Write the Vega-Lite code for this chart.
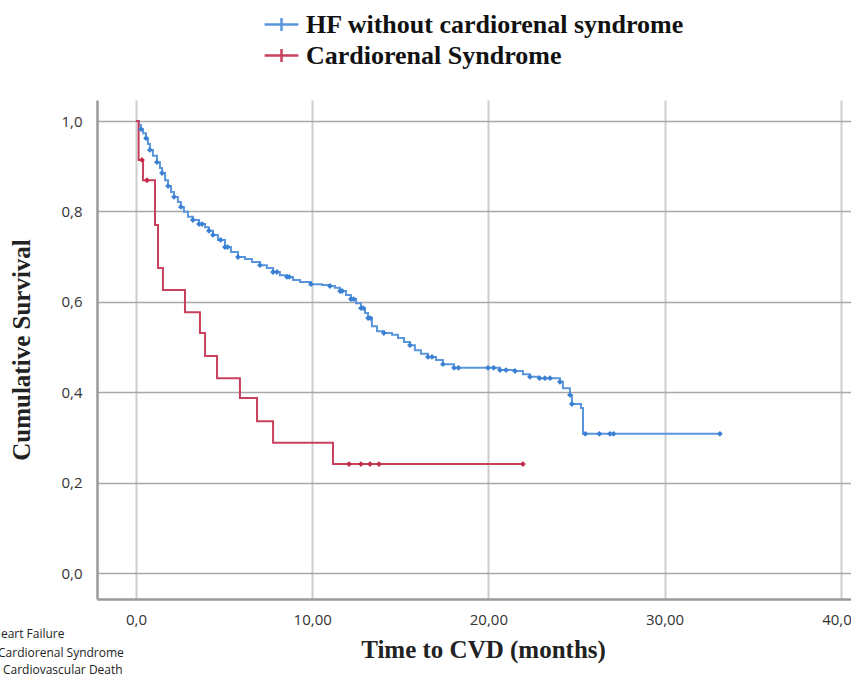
{
  "$schema": "https://vega.github.io/schema/vega-lite/v6.json",
  "autosize": {"type": "none"},
  "padding": {"left": 97, "top": 100, "right": 0, "bottom": 76},
  "width": 754,
  "height": 499,
  "background": "white",
  "config": {
    "view": {"stroke": null},
    "axis": {"labelFont": "Open Sans", "labelFontSize": 15, "labelColor": "#333333", "titleFont": "Liberation Serif", "titleFontWeight": "bold", "titleFontSize": 25, "titleColor": "#222222", "ticks": false, "domainColor": "#9a9a9a", "domainWidth": 2.5}
  },
  "data": {"values": [
    {"group": "HF without cardiorenal syndrome", "kind": "step", "t": 0, "s": 1.0},
    {"group": "HF without cardiorenal syndrome", "kind": "step", "t": 0.17, "s": 0.991},
    {"group": "HF without cardiorenal syndrome", "kind": "step", "t": 0.28, "s": 0.982},
    {"group": "HF without cardiorenal syndrome", "kind": "step", "t": 0.40, "s": 0.973},
    {"group": "HF without cardiorenal syndrome", "kind": "step", "t": 0.57, "s": 0.962},
    {"group": "HF without cardiorenal syndrome", "kind": "step", "t": 0.68, "s": 0.949},
    {"group": "HF without cardiorenal syndrome", "kind": "step", "t": 0.79, "s": 0.936},
    {"group": "HF without cardiorenal syndrome", "kind": "step", "t": 0.96, "s": 0.923},
    {"group": "HF without cardiorenal syndrome", "kind": "step", "t": 1.19, "s": 0.909},
    {"group": "HF without cardiorenal syndrome", "kind": "step", "t": 1.36, "s": 0.896},
    {"group": "HF without cardiorenal syndrome", "kind": "step", "t": 1.48, "s": 0.885},
    {"group": "HF without cardiorenal syndrome", "kind": "step", "t": 1.65, "s": 0.869},
    {"group": "HF without cardiorenal syndrome", "kind": "step", "t": 1.82, "s": 0.856},
    {"group": "HF without cardiorenal syndrome", "kind": "step", "t": 1.99, "s": 0.843},
    {"group": "HF without cardiorenal syndrome", "kind": "step", "t": 2.16, "s": 0.832},
    {"group": "HF without cardiorenal syndrome", "kind": "step", "t": 2.38, "s": 0.821},
    {"group": "HF without cardiorenal syndrome", "kind": "step", "t": 2.55, "s": 0.810},
    {"group": "HF without cardiorenal syndrome", "kind": "step", "t": 2.72, "s": 0.799},
    {"group": "HF without cardiorenal syndrome", "kind": "step", "t": 2.95, "s": 0.788},
    {"group": "HF without cardiorenal syndrome", "kind": "step", "t": 3.23, "s": 0.781},
    {"group": "HF without cardiorenal syndrome", "kind": "step", "t": 3.58, "s": 0.772},
    {"group": "HF without cardiorenal syndrome", "kind": "step", "t": 3.92, "s": 0.765},
    {"group": "HF without cardiorenal syndrome", "kind": "step", "t": 4.14, "s": 0.757},
    {"group": "HF without cardiorenal syndrome", "kind": "step", "t": 4.37, "s": 0.748},
    {"group": "HF without cardiorenal syndrome", "kind": "step", "t": 4.65, "s": 0.737},
    {"group": "HF without cardiorenal syndrome", "kind": "step", "t": 5.05, "s": 0.721},
    {"group": "HF without cardiorenal syndrome", "kind": "step", "t": 5.39, "s": 0.710},
    {"group": "HF without cardiorenal syndrome", "kind": "step", "t": 5.79, "s": 0.699},
    {"group": "HF without cardiorenal syndrome", "kind": "step", "t": 6.19, "s": 0.695},
    {"group": "HF without cardiorenal syndrome", "kind": "step", "t": 6.58, "s": 0.688},
    {"group": "HF without cardiorenal syndrome", "kind": "step", "t": 7.04, "s": 0.681},
    {"group": "HF without cardiorenal syndrome", "kind": "step", "t": 7.43, "s": 0.675},
    {"group": "HF without cardiorenal syndrome", "kind": "step", "t": 7.78, "s": 0.666},
    {"group": "HF without cardiorenal syndrome", "kind": "step", "t": 8.17, "s": 0.659},
    {"group": "HF without cardiorenal syndrome", "kind": "step", "t": 8.57, "s": 0.655},
    {"group": "HF without cardiorenal syndrome", "kind": "step", "t": 8.91, "s": 0.648},
    {"group": "HF without cardiorenal syndrome", "kind": "step", "t": 9.31, "s": 0.644},
    {"group": "HF without cardiorenal syndrome", "kind": "step", "t": 9.93, "s": 0.639},
    {"group": "HF without cardiorenal syndrome", "kind": "step", "t": 10.56, "s": 0.637},
    {"group": "HF without cardiorenal syndrome", "kind": "step", "t": 11.01, "s": 0.635},
    {"group": "HF without cardiorenal syndrome", "kind": "step", "t": 11.29, "s": 0.631},
    {"group": "HF without cardiorenal syndrome", "kind": "step", "t": 11.58, "s": 0.624},
    {"group": "HF without cardiorenal syndrome", "kind": "step", "t": 11.92, "s": 0.615},
    {"group": "HF without cardiorenal syndrome", "kind": "step", "t": 12.20, "s": 0.606},
    {"group": "HF without cardiorenal syndrome", "kind": "step", "t": 12.49, "s": 0.597},
    {"group": "HF without cardiorenal syndrome", "kind": "step", "t": 12.77, "s": 0.586},
    {"group": "HF without cardiorenal syndrome", "kind": "step", "t": 13.00, "s": 0.575},
    {"group": "HF without cardiorenal syndrome", "kind": "step", "t": 13.17, "s": 0.564},
    {"group": "HF without cardiorenal syndrome", "kind": "step", "t": 13.39, "s": 0.546},
    {"group": "HF without cardiorenal syndrome", "kind": "step", "t": 13.68, "s": 0.535},
    {"group": "HF without cardiorenal syndrome", "kind": "step", "t": 14.07, "s": 0.531},
    {"group": "HF without cardiorenal syndrome", "kind": "step", "t": 14.53, "s": 0.527},
    {"group": "HF without cardiorenal syndrome", "kind": "step", "t": 14.87, "s": 0.520},
    {"group": "HF without cardiorenal syndrome", "kind": "step", "t": 15.21, "s": 0.511},
    {"group": "HF without cardiorenal syndrome", "kind": "step", "t": 15.55, "s": 0.504},
    {"group": "HF without cardiorenal syndrome", "kind": "step", "t": 15.83, "s": 0.493},
    {"group": "HF without cardiorenal syndrome", "kind": "step", "t": 16.17, "s": 0.485},
    {"group": "HF without cardiorenal syndrome", "kind": "step", "t": 16.57, "s": 0.478},
    {"group": "HF without cardiorenal syndrome", "kind": "step", "t": 17.03, "s": 0.471},
    {"group": "HF without cardiorenal syndrome", "kind": "step", "t": 17.42, "s": 0.462},
    {"group": "HF without cardiorenal syndrome", "kind": "step", "t": 18.05, "s": 0.454},
    {"group": "HF without cardiorenal syndrome", "kind": "step", "t": 20.66, "s": 0.449},
    {"group": "HF without cardiorenal syndrome", "kind": "step", "t": 21.51, "s": 0.447},
    {"group": "HF without cardiorenal syndrome", "kind": "step", "t": 21.96, "s": 0.440},
    {"group": "HF without cardiorenal syndrome", "kind": "step", "t": 22.36, "s": 0.434},
    {"group": "HF without cardiorenal syndrome", "kind": "step", "t": 22.9, "s": 0.431},
    {"group": "HF without cardiorenal syndrome", "kind": "step", "t": 24.06, "s": 0.423},
    {"group": "HF without cardiorenal syndrome", "kind": "step", "t": 24.23, "s": 0.409},
    {"group": "HF without cardiorenal syndrome", "kind": "step", "t": 24.63, "s": 0.394},
    {"group": "HF without cardiorenal syndrome", "kind": "step", "t": 24.74, "s": 0.374},
    {"group": "HF without cardiorenal syndrome", "kind": "step", "t": 25.26, "s": 0.365},
    {"group": "HF without cardiorenal syndrome", "kind": "step", "t": 25.37, "s": 0.308},
    {"group": "HF without cardiorenal syndrome", "kind": "step", "t": 33.14, "s": 0.308},
    {"group": "HF without cardiorenal syndrome", "kind": "censor", "t": 0.28, "s": 0.982},
    {"group": "HF without cardiorenal syndrome", "kind": "censor", "t": 0.57, "s": 0.962},
    {"group": "HF without cardiorenal syndrome", "kind": "censor", "t": 0.79, "s": 0.936},
    {"group": "HF without cardiorenal syndrome", "kind": "censor", "t": 1.19, "s": 0.909},
    {"group": "HF without cardiorenal syndrome", "kind": "censor", "t": 1.48, "s": 0.885},
    {"group": "HF without cardiorenal syndrome", "kind": "censor", "t": 1.82, "s": 0.856},
    {"group": "HF without cardiorenal syndrome", "kind": "censor", "t": 2.16, "s": 0.832},
    {"group": "HF without cardiorenal syndrome", "kind": "censor", "t": 2.55, "s": 0.810},
    {"group": "HF without cardiorenal syndrome", "kind": "censor", "t": 3.23, "s": 0.781},
    {"group": "HF without cardiorenal syndrome", "kind": "censor", "t": 3.58, "s": 0.772},
    {"group": "HF without cardiorenal syndrome", "kind": "censor", "t": 3.75, "s": 0.772},
    {"group": "HF without cardiorenal syndrome", "kind": "censor", "t": 4.14, "s": 0.757},
    {"group": "HF without cardiorenal syndrome", "kind": "censor", "t": 4.37, "s": 0.748},
    {"group": "HF without cardiorenal syndrome", "kind": "censor", "t": 4.8, "s": 0.737},
    {"group": "HF without cardiorenal syndrome", "kind": "censor", "t": 5.05, "s": 0.721},
    {"group": "HF without cardiorenal syndrome", "kind": "censor", "t": 5.2, "s": 0.721},
    {"group": "HF without cardiorenal syndrome", "kind": "censor", "t": 5.79, "s": 0.699},
    {"group": "HF without cardiorenal syndrome", "kind": "censor", "t": 7.04, "s": 0.681},
    {"group": "HF without cardiorenal syndrome", "kind": "censor", "t": 7.78, "s": 0.666},
    {"group": "HF without cardiorenal syndrome", "kind": "censor", "t": 8.0, "s": 0.666},
    {"group": "HF without cardiorenal syndrome", "kind": "censor", "t": 8.57, "s": 0.655},
    {"group": "HF without cardiorenal syndrome", "kind": "censor", "t": 8.7, "s": 0.655},
    {"group": "HF without cardiorenal syndrome", "kind": "censor", "t": 9.93, "s": 0.639},
    {"group": "HF without cardiorenal syndrome", "kind": "censor", "t": 11.01, "s": 0.635},
    {"group": "HF without cardiorenal syndrome", "kind": "censor", "t": 11.58, "s": 0.624},
    {"group": "HF without cardiorenal syndrome", "kind": "censor", "t": 11.7, "s": 0.624},
    {"group": "HF without cardiorenal syndrome", "kind": "censor", "t": 12.2, "s": 0.606},
    {"group": "HF without cardiorenal syndrome", "kind": "censor", "t": 12.35, "s": 0.606},
    {"group": "HF without cardiorenal syndrome", "kind": "censor", "t": 12.77, "s": 0.586},
    {"group": "HF without cardiorenal syndrome", "kind": "censor", "t": 12.9, "s": 0.586},
    {"group": "HF without cardiorenal syndrome", "kind": "censor", "t": 13.17, "s": 0.564},
    {"group": "HF without cardiorenal syndrome", "kind": "censor", "t": 13.3, "s": 0.564},
    {"group": "HF without cardiorenal syndrome", "kind": "censor", "t": 14.07, "s": 0.531},
    {"group": "HF without cardiorenal syndrome", "kind": "censor", "t": 15.55, "s": 0.504},
    {"group": "HF without cardiorenal syndrome", "kind": "censor", "t": 16.57, "s": 0.478},
    {"group": "HF without cardiorenal syndrome", "kind": "censor", "t": 16.8, "s": 0.478},
    {"group": "HF without cardiorenal syndrome", "kind": "censor", "t": 17.42, "s": 0.462},
    {"group": "HF without cardiorenal syndrome", "kind": "censor", "t": 18.05, "s": 0.454},
    {"group": "HF without cardiorenal syndrome", "kind": "censor", "t": 18.3, "s": 0.454},
    {"group": "HF without cardiorenal syndrome", "kind": "censor", "t": 19.98, "s": 0.454},
    {"group": "HF without cardiorenal syndrome", "kind": "censor", "t": 20.3, "s": 0.454},
    {"group": "HF without cardiorenal syndrome", "kind": "censor", "t": 20.66, "s": 0.449},
    {"group": "HF without cardiorenal syndrome", "kind": "censor", "t": 21.0, "s": 0.449},
    {"group": "HF without cardiorenal syndrome", "kind": "censor", "t": 21.51, "s": 0.447},
    {"group": "HF without cardiorenal syndrome", "kind": "censor", "t": 22.36, "s": 0.434},
    {"group": "HF without cardiorenal syndrome", "kind": "censor", "t": 22.9, "s": 0.431},
    {"group": "HF without cardiorenal syndrome", "kind": "censor", "t": 23.21, "s": 0.431},
    {"group": "HF without cardiorenal syndrome", "kind": "censor", "t": 23.5, "s": 0.431},
    {"group": "HF without cardiorenal syndrome", "kind": "censor", "t": 24.06, "s": 0.423},
    {"group": "HF without cardiorenal syndrome", "kind": "censor", "t": 24.63, "s": 0.394},
    {"group": "HF without cardiorenal syndrome", "kind": "censor", "t": 24.74, "s": 0.374},
    {"group": "HF without cardiorenal syndrome", "kind": "censor", "t": 25.5, "s": 0.308},
    {"group": "HF without cardiorenal syndrome", "kind": "censor", "t": 26.3, "s": 0.308},
    {"group": "HF without cardiorenal syndrome", "kind": "censor", "t": 26.9, "s": 0.308},
    {"group": "HF without cardiorenal syndrome", "kind": "censor", "t": 27.1, "s": 0.308},
    {"group": "HF without cardiorenal syndrome", "kind": "censor", "t": 33.14, "s": 0.308},
    {"group": "Cardiorenal Syndrome", "kind": "step", "t": 0, "s": 1.0},
    {"group": "Cardiorenal Syndrome", "kind": "step", "t": 0.15, "s": 0.914},
    {"group": "Cardiorenal Syndrome", "kind": "step", "t": 0.40, "s": 0.869},
    {"group": "Cardiorenal Syndrome", "kind": "step", "t": 1.08, "s": 0.770},
    {"group": "Cardiorenal Syndrome", "kind": "step", "t": 1.25, "s": 0.675},
    {"group": "Cardiorenal Syndrome", "kind": "step", "t": 1.53, "s": 0.626},
    {"group": "Cardiorenal Syndrome", "kind": "step", "t": 2.78, "s": 0.577},
    {"group": "Cardiorenal Syndrome", "kind": "step", "t": 3.63, "s": 0.531},
    {"group": "Cardiorenal Syndrome", "kind": "step", "t": 3.92, "s": 0.480},
    {"group": "Cardiorenal Syndrome", "kind": "step", "t": 4.60, "s": 0.431},
    {"group": "Cardiorenal Syndrome", "kind": "step", "t": 5.90, "s": 0.387},
    {"group": "Cardiorenal Syndrome", "kind": "step", "t": 6.87, "s": 0.336},
    {"group": "Cardiorenal Syndrome", "kind": "step", "t": 7.78, "s": 0.288},
    {"group": "Cardiorenal Syndrome", "kind": "step", "t": 11.18, "s": 0.241},
    {"group": "Cardiorenal Syndrome", "kind": "step", "t": 21.96, "s": 0.241},
    {"group": "Cardiorenal Syndrome", "kind": "censor", "t": 0.34, "s": 0.914},
    {"group": "Cardiorenal Syndrome", "kind": "censor", "t": 0.62, "s": 0.869},
    {"group": "Cardiorenal Syndrome", "kind": "censor", "t": 12.09, "s": 0.241},
    {"group": "Cardiorenal Syndrome", "kind": "censor", "t": 12.77, "s": 0.241},
    {"group": "Cardiorenal Syndrome", "kind": "censor", "t": 13.28, "s": 0.241},
    {"group": "Cardiorenal Syndrome", "kind": "censor", "t": 13.79, "s": 0.241},
    {"group": "Cardiorenal Syndrome", "kind": "censor", "t": 21.96, "s": 0.241},
    {"group": "note", "kind": "note", "label": "Heart Failure", "t": -8.17, "s": -0.144},
    {"group": "note", "kind": "note", "label": "Cardiorenal Syndrome", "t": -7.83, "s": -0.186},
    {"group": "note", "kind": "note", "label": "Cardiovascular Death", "t": -7.55, "s": -0.223}
  ]},
  "encoding": {
    "x": {"field": "t", "type": "quantitative", "scale": {"domain": [-2.213, 40.58], "nice": false, "zero": false},
      "axis": {"title": "Time to CVD (months)", "values": [0, 10, 20, 30, 40], "labelExpr": "datum.value == 0 ? '0,0' : replace(format(datum.value, '.2f'), '.', ',')", "labelPadding": 13, "titlePadding": 10, "titleX": 386, "gridColor": "#cdcdcd", "gridWidth": 2}},
    "y": {"field": "s", "type": "quantitative", "scale": {"domain": [-0.0575, 1.0465], "nice": false, "zero": false},
      "axis": {"title": "Cumulative Survival", "values": [0, 0.2, 0.4, 0.6, 0.8, 1.0], "labelExpr": "replace(format(datum.value, '.1f'), '.', ',')", "labelPadding": 15, "titlePadding": 26, "gridColor": "#a8a8a8", "gridWidth": 1.5}}
  },
  "layer": [
    {
      "transform": [{"filter": "datum.kind == 'step'"}],
      "mark": {"type": "line", "interpolate": "step-after", "strokeWidth": 2},
      "encoding": {
        "color": {"field": "group", "type": "nominal",
          "scale": {"domain": ["HF without cardiorenal syndrome", "Cardiorenal Syndrome"], "range": ["#5a96dc", "#c8405c"]},
          "legend": {"title": null, "orient": "none", "legendX": 170, "legendY": -90, "padding": 0,
            "labelFont": "Liberation Serif", "labelFontWeight": "bold", "labelFontSize": 26, "labelColor": "#111111", "labelLimit": 0,
            "labelOffset": 10, "rowPadding": 3,
            "symbolType": "M-1.3,0H1.3M0,-0.5V0.5", "symbolSize": 676, "symbolStrokeWidth": 2.5}}
      }
    },
    {
      "transform": [{"filter": "datum.kind == 'censor'"}],
      "mark": {"type": "point", "shape": "diamond", "filled": true, "size": 34, "opacity": 1},
      "encoding": {
        "fill": {"field": "group", "type": "nominal",
          "scale": {"domain": ["HF without cardiorenal syndrome", "Cardiorenal Syndrome"], "range": ["#3a80d4", "#c42a4a"]},
          "legend": null}
      }
    },
    {
      "transform": [{"filter": "datum.kind == 'note'"}],
      "mark": {"type": "text", "align": "left", "baseline": "alphabetic", "font": "Open Sans", "fontSize": 12, "color": "#222222"},
      "encoding": {"text": {"field": "label", "type": "nominal"}}
    }
  ]
}
